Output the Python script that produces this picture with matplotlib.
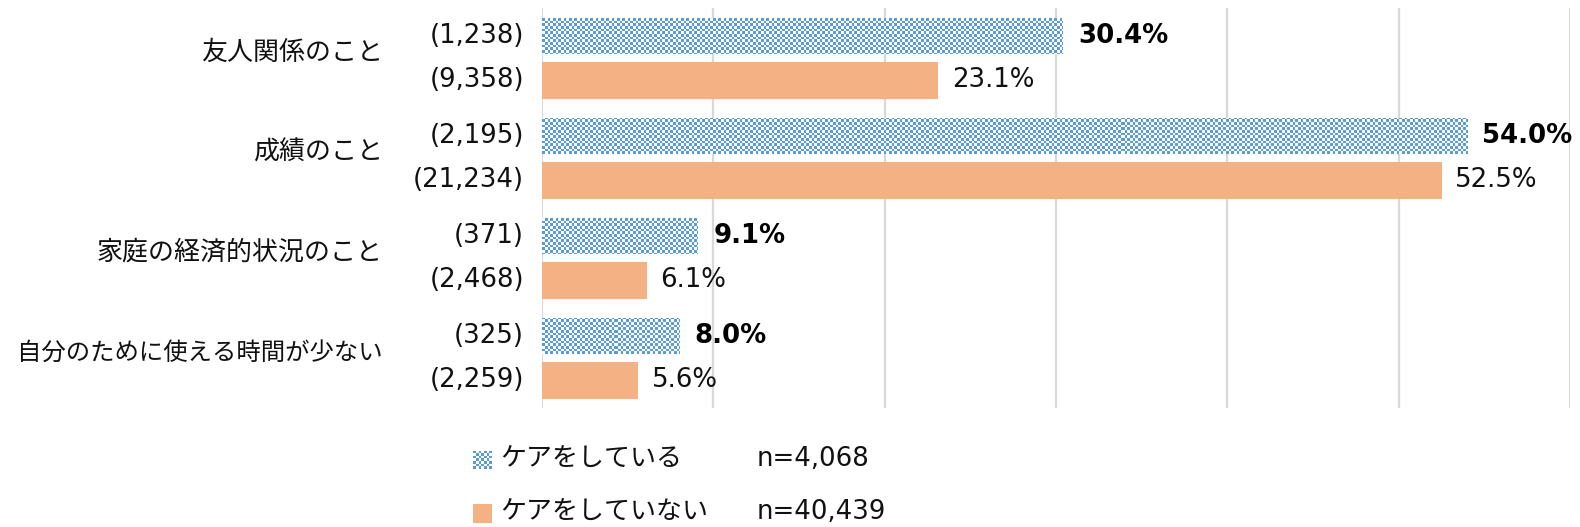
import numpy as np
import matplotlib
matplotlib.use("Agg")
import matplotlib.pyplot as plt
from matplotlib.patches import Rectangle

plt.rcParams['font.family'] = ['DejaVu Sans', 'Noto Sans CJK JP']

categories = ['友人関係のこと', '成績のこと', '家庭の経済的状況のこと', '自分のために使える時間が少ない']
care = [30.4, 54.0, 9.1, 8.0]
nocare = [23.1, 52.5, 6.1, 5.6]
care_n = ['(1,238)', '(2,195)', '(371)', '(325)']
nocare_n = ['(9,358)', '(21,234)', '(2,468)', '(2,259)']
legend_labels = ['ケアをしている', 'ケアをしていない']
legend_n = ['n=4,068', 'n=40,439']

BLUE = '#5B9BD5'
ORANGE = '#F4B183'
GRID = '#D9D9D9'
TXT = '#111111'
FS = 18.7

W, H = 1580, 527
fig = plt.figure(figsize=(W / 100, H / 100), dpi=100)
ax_l, ax_r, ax_t, ax_b = 542, 1570, 8, 408
ax = fig.add_axes([ax_l / W, 1 - ax_b / H, (ax_r - ax_l) / W, (ax_b - ax_t) / H])

def checker(h, w):
    i = np.arange(h)[:, None]
    j = np.arange(w)[None, :]
    c = ((i * 3) // 8 + (j * 3) // 8) % 2
    rgb_b = np.array(matplotlib.colors.to_rgb(BLUE))
    img = np.ones((h, w, 3))
    img[c == 0] = rgb_b
    return img

y = np.arange(len(categories))
bh = 0.37
off = 0.22

xmax = 60
ylim = (3.5, -0.5)
img = checker(ax_b - ax_t, ax_r - ax_l)

bars_c = ax.barh(y - off, care, height=bh, color='none', edgecolor='none', zorder=3)
for b in bars_c:
    im = ax.imshow(img, extent=(0, xmax, ylim[0], ylim[1]), origin='upper',
                   interpolation='nearest', aspect='auto', zorder=3)
    im.set_clip_path(b)
bars_n = ax.barh(y + off, nocare, height=bh, color=ORANGE, edgecolor='none', zorder=3)

ax.set_xlim(0, xmax)
ax.set_ylim(*ylim)
ax.set_xticks(np.arange(0, xmax + 1, 10))
ax.grid(axis='x', color=GRID, linewidth=1.6, zorder=0)
ax.set_axisbelow(True)
ax.tick_params(left=False, bottom=False, labelleft=False, labelbottom=False)
for s in ax.spines.values():
    s.set_visible(False)

for i, v in enumerate(care):
    ax.annotate(f'{v:.1f}%', (v, y[i] - off), xytext=(11, 0), textcoords='offset points',
                ha='left', va='center', fontsize=FS, fontweight='bold', color='black')
for i, v in enumerate(nocare):
    ax.annotate(f'{v:.1f}%', (v, y[i] + off), xytext=(10, 0), textcoords='offset points',
                ha='left', va='center', fontsize=FS, color=TXT)

tr = ax.get_yaxis_transform()
axw = ax_r - ax_l
for i, c in enumerate(categories):
    fs_c = FS if len(c) <= 13 else FS * 366 / (len(c) * 26)
    ax.text((383 - ax_l) / axw, y[i] - 0.05, c, transform=tr, ha='right', va='center',
            fontsize=fs_c, color=TXT)
    ax.text((524 - ax_l) / axw, y[i] - off, care_n[i], transform=tr, ha='right', va='center',
            fontsize=FS, color=TXT)
    ax.text((524 - ax_l) / axw, y[i] + off, nocare_n[i], transform=tr, ha='right', va='center',
            fontsize=FS, color=TXT)

# legend
sq = 19
rows = [460, 513]
lax = fig.add_axes([473 / W, 1 - (rows[0] + sq / 2) / H, sq / W, sq / H])
lax.imshow(checker(sq, sq), interpolation='nearest', aspect='auto')
lax.axis('off')
fig.add_artist(Rectangle((473 / W, 1 - (rows[1] + sq / 2) / H), sq / W, sq / H,
                         transform=fig.transFigure, facecolor=ORANGE, edgecolor='none'))
for k in range(2):
    fig.text(500 / W, 1 - rows[k] / H, legend_labels[k], ha='left', va='center',
             fontsize=FS, color=TXT)
    fig.text(757 / W, 1 - (rows[k] - 1) / H, legend_n[k], ha='left', va='center',
             fontsize=FS, color=TXT)

fig.savefig('out.png', dpi=100, facecolor='white')
